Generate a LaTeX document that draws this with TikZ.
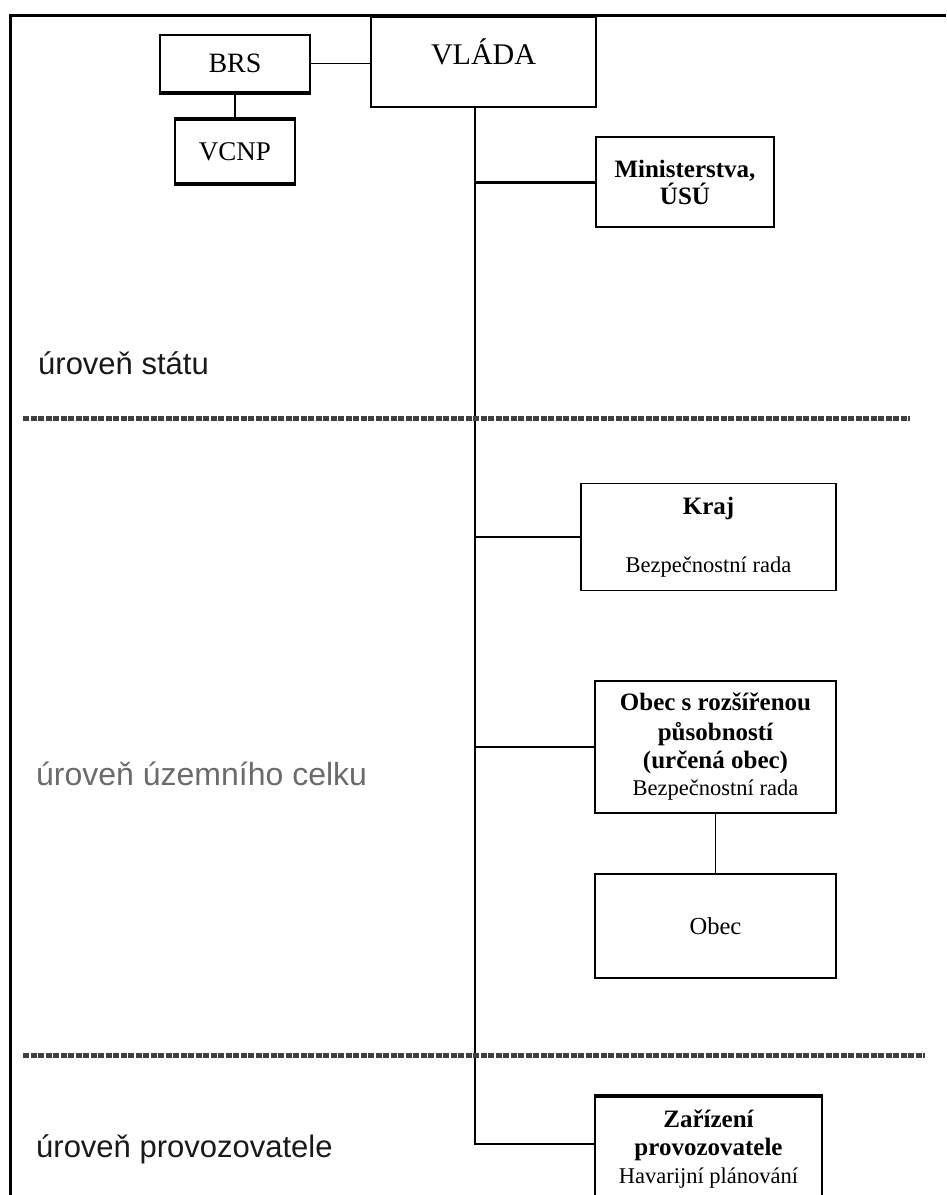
\documentclass[tikz,border=0pt]{standalone}
\usepackage{fontspec}
\setmainfont{Liberation Serif}
\newfontfamily\levelfont{Liberation Sans}
\newcommand\hd[1]{{\fontsize{25}{29}\selectfont\bfseries #1}}

\begin{document}
\begin{tikzpicture}[x=1pt,y=-1pt,
  box/.style={draw,rectangle,line width=1.8,inner sep=0,align=center,
    font=\fontsize{22.5}{27}\selectfont},
  link/.style={line width=1.5},
  level/.style={anchor=base west,inner sep=0,font=\levelfont\fontsize{31}{36}\selectfont},
  divider/.style={line width=5,black!75,dash pattern=on 6pt off 1.5pt}]
  \useasboundingbox (0,0) rectangle (946,1195);
  \fill[white] (0,0) rectangle (946,1195);
  \draw[line width=3] (10,1195) -- (10,15) -- (946,15);

  % state level
  \node[box,minimum width=150,minimum height=57,font=\fontsize{28}{32}\selectfont] (brs) at (235,63.5) {BRS};
  \node[box,minimum width=120,minimum height=63,font=\fontsize{27}{32}\selectfont] (vcnp) at (235,151.5) {VCNP};
  \node[box,minimum width=225,minimum height=90,font=\fontsize{30}{34}\selectfont,
    text height=21pt,text depth=17pt] (vlada) at (483.5,62) {VLÁDA};
  \node[box,minimum width=178,minimum height=90] (mini) at (685,182) {\hd{Ministerstva,}\\\hd{ÚSÚ}};
  \draw[line width=3.5] (brs.south west) -- (brs.south east);
  \draw[line width=3.5] (vcnp.north west) -- (vcnp.north east);
  \draw[line width=3.5] (vcnp.south west) -- (vcnp.south east);

  % regional level
  \node[box,minimum width=255,minimum height=107] (kraj) at (708.5,537) {\hd{Kraj}\\[31pt]Bezpečnostní rada};
  \node[box,minimum width=241,minimum height=132] (orp) at (715.5,747) {\hd{Obec s rozšířenou}\\[3pt]\hd{působností}\\[1pt]\hd{(určená obec)}\\Bezpečnostní rada};
  \node[box,minimum width=241,minimum height=104,font=\fontsize{24.5}{29}\selectfont] (obec) at (715.5,926) {Obec};

  % operator level
  \node[box,minimum width=227,minimum height=104] (zar) at (708.5,1149) {\hd{Zařízení}\\[1pt]\hd{provozovatele}\\[1pt]Havarijní plánování};
  \draw[line width=4] (zar.north west) -- (zar.north east);

  \coordinate (trunkend) at (475,1144);
  \draw[link] (brs.east) -- (brs.east -| vlada.west);
  \draw[link] (brs) -- (vcnp);
  \draw[link] (vlada.south -| trunkend) -- (trunkend) -- (trunkend -| zar.west);
  \draw[line width=3] (trunkend |- mini) -- (mini.west);
  \draw[link] (trunkend |- kraj) -- (kraj.west);
  \draw[link] (trunkend |- orp) -- (orp.west);
  \draw[link] (orp) -- (obec);

  \draw[divider] (23,418) -- (910,418);
  \draw[divider] (23,1055) -- (925,1055);

  \node[level,black!90] (state) at (38,374) {úroveň státu};
  \node[level,black!58,font=\levelfont\fontsize{32}{37}\selectfont] (region) at (36,785) {úroveň územního celku};
  \node[level,black!90] (operator) at (36,1157) {úroveň provozovatele};
\end{tikzpicture}
\end{document}
